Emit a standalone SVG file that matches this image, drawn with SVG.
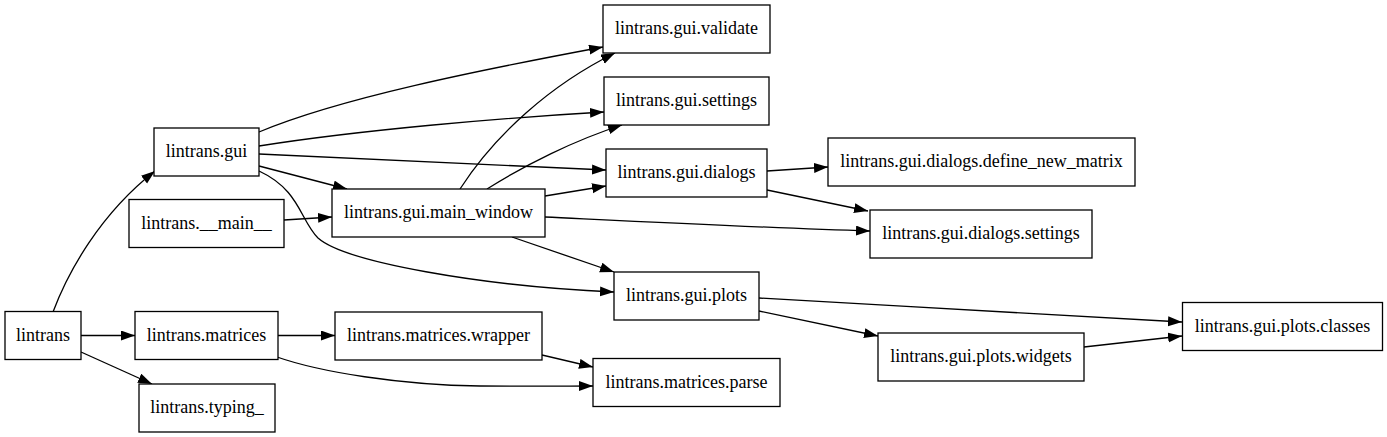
<svg xmlns="http://www.w3.org/2000/svg" width="1387" height="437" viewBox="0 0 1387 437">
<style>
.n rect{fill:#fff;stroke:#000;stroke-width:1.3}
.n text{font-family:"Liberation Serif",Tinos,"Times New Roman",Times,"Noto Serif","DejaVu Serif",FreeSerif,"Nimbus Roman",serif;font-size:18px;text-anchor:middle;fill:#000}
.e path{fill:none;stroke:#000;stroke-width:1.3;marker-end:url(#arr)}
</style>
<defs>
<marker id="arr" markerUnits="userSpaceOnUse" markerWidth="15" markerHeight="11" refX="14" refY="5" orient="auto"><path d="M0,0 L14,5 L0,10 z" fill="#000"/></marker>
</defs>
<rect width="1387" height="437" fill="#fff"/>
<g id="edges" class="e">
<path d="M53,312 C68,272 100,214 155,171"/>
<path d="M81,335.5 L135,335.5"/>
<path d="M81,352 L152,384"/>
<path d="M259,132 C340,98 480,70 603,47"/>
<path d="M259,146 C360,130 500,118 604,112"/>
<path d="M259,154 C380,160 500,166 606,170"/>
<path d="M259,166 L347,189"/>
<path d="M259,171 C300,190 300,220 318,238 C345,262 480,286 614,292"/>
<path d="M284,220 L332,217"/>
<path d="M460,189 C495,135 550,85 615,53"/>
<path d="M487,189 C525,165 575,140 622,125"/>
<path d="M545,196 L606,186"/>
<path d="M545,217 C650,222 770,228 870,231"/>
<path d="M512,237 L614,272"/>
<path d="M767,171 L828,167"/>
<path d="M767,190 L868,211"/>
<path d="M759,298 C900,306 1050,315 1182,322"/>
<path d="M759,311 L878,336"/>
<path d="M1084,347 L1182,336"/>
<path d="M278,335.5 L335,335.5"/>
<path d="M277,357 C320,372 400,385 480,386 C530,386.5 570,386 593,386"/>
<path d="M542,355 L593,367"/>
</g>
<g id="lintrans" class="n"><rect x="5" y="311.5" width="76" height="48"/><text x="43" y="340.5">lintrans</text></g>
<g id="lintrans.gui" class="n"><rect x="154" y="128" width="105" height="48"/><text x="206.5" y="157">lintrans.gui</text></g>
<g id="lintrans.__main__" class="n"><rect x="129" y="199.5" width="155" height="48"/><text x="206.5" y="228.5">lintrans.__main__</text></g>
<g id="lintrans.gui.main_window" class="n"><rect x="332" y="189" width="213" height="48"/><text x="438.5" y="218">lintrans.gui.main_window</text></g>
<g id="lintrans.gui.validate" class="n"><rect x="603" y="5" width="167" height="48"/><text x="686.5" y="34">lintrans.gui.validate</text></g>
<g id="lintrans.gui.settings" class="n"><rect x="604" y="77" width="165" height="48"/><text x="686.5" y="106">lintrans.gui.settings</text></g>
<g id="lintrans.gui.dialogs" class="n"><rect x="606" y="149" width="161" height="48"/><text x="686.5" y="178">lintrans.gui.dialogs</text></g>
<g id="lintrans.gui.dialogs.define_new_matrix" class="n"><rect x="828" y="138" width="307" height="48"/><text x="981.5" y="167">lintrans.gui.dialogs.define_new_matrix</text></g>
<g id="lintrans.gui.dialogs.settings" class="n"><rect x="870" y="210" width="222" height="48"/><text x="981" y="239">lintrans.gui.dialogs.settings</text></g>
<g id="lintrans.gui.plots" class="n"><rect x="614" y="272" width="145" height="48"/><text x="686.5" y="301">lintrans.gui.plots</text></g>
<g id="lintrans.gui.plots.widgets" class="n"><rect x="878" y="333" width="206" height="48"/><text x="981" y="362">lintrans.gui.plots.widgets</text></g>
<g id="lintrans.gui.plots.classes" class="n"><rect x="1182.5" y="302.5" width="200" height="48"/><text x="1282.5" y="331.5">lintrans.gui.plots.classes</text></g>
<g id="lintrans.matrices" class="n"><rect x="135" y="311.5" width="143" height="48"/><text x="206.5" y="340.5">lintrans.matrices</text></g>
<g id="lintrans.matrices.wrapper" class="n"><rect x="335" y="312" width="207" height="48"/><text x="438.5" y="341">lintrans.matrices.wrapper</text></g>
<g id="lintrans.matrices.parse" class="n"><rect x="593" y="358.5" width="187" height="48"/><text x="686.5" y="387.5">lintrans.matrices.parse</text></g>
<g id="lintrans.typing_" class="n"><rect x="139" y="384" width="136" height="48"/><text x="207" y="413">lintrans.typing_</text></g>
</svg>
